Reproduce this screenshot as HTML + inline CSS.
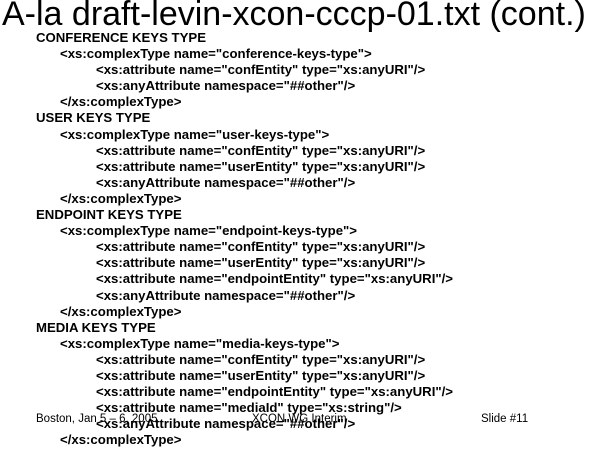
<!DOCTYPE html>
<html><head><meta charset="utf-8"><style>
body{margin:0;width:600px;height:450px;background:#fff;position:relative;overflow:hidden;font-family:"Liberation Sans",Arial,sans-serif;}
.t{position:absolute;left:2px;top:-5px;font-size:34px;white-space:nowrap;color:#000;}
.b{position:absolute;left:0;top:30px;font-size:13.2px;font-weight:bold;line-height:16.1px;white-space:nowrap;}
.b div{height:16.1px}
.l0{padding-left:36px}.l1{padding-left:60px}.l2{padding-left:96px}
.f{position:absolute;top:413px;font-size:11.5px;white-space:nowrap;}
</style></head><body>
<div class="t">A-la draft-levin-xcon-cccp-01.txt (cont.)</div>
<div class="b"><div class="l0">CONFERENCE KEYS TYPE</div><div class="l1">&lt;xs:complexType name="conference-keys-type"&gt;</div><div class="l2">&lt;xs:attribute name="confEntity" type="xs:anyURI"/&gt;</div><div class="l2">&lt;xs:anyAttribute namespace="##other"/&gt;</div><div class="l1">&lt;/xs:complexType&gt;</div><div class="l0">USER KEYS TYPE</div><div class="l1">&lt;xs:complexType name="user-keys-type"&gt;</div><div class="l2">&lt;xs:attribute name="confEntity" type="xs:anyURI"/&gt;</div><div class="l2">&lt;xs:attribute name="userEntity" type="xs:anyURI"/&gt;</div><div class="l2">&lt;xs:anyAttribute namespace="##other"/&gt;</div><div class="l1">&lt;/xs:complexType&gt;</div><div class="l0">ENDPOINT KEYS TYPE</div><div class="l1">&lt;xs:complexType name="endpoint-keys-type"&gt;</div><div class="l2">&lt;xs:attribute name="confEntity" type="xs:anyURI"/&gt;</div><div class="l2">&lt;xs:attribute name="userEntity" type="xs:anyURI"/&gt;</div><div class="l2">&lt;xs:attribute name="endpointEntity" type="xs:anyURI"/&gt;</div><div class="l2">&lt;xs:anyAttribute namespace="##other"/&gt;</div><div class="l1">&lt;/xs:complexType&gt;</div><div class="l0">MEDIA KEYS TYPE</div><div class="l1">&lt;xs:complexType name="media-keys-type"&gt;</div><div class="l2">&lt;xs:attribute name="confEntity" type="xs:anyURI"/&gt;</div><div class="l2">&lt;xs:attribute name="userEntity" type="xs:anyURI"/&gt;</div><div class="l2">&lt;xs:attribute name="endpointEntity" type="xs:anyURI"/&gt;</div><div class="l2">&lt;xs:attribute name="mediaId" type="xs:string"/&gt;</div><div class="l2">&lt;xs:anyAttribute namespace="##other"/&gt;</div><div class="l1">&lt;/xs:complexType&gt;</div></div>
<div class="f" style="left:36px">Boston, Jan 5 – 6, 2005</div>
<div class="f" style="left:252px">XCON WG Interim</div>
<div class="f" style="left:481px">Slide #11</div>
</body></html>
